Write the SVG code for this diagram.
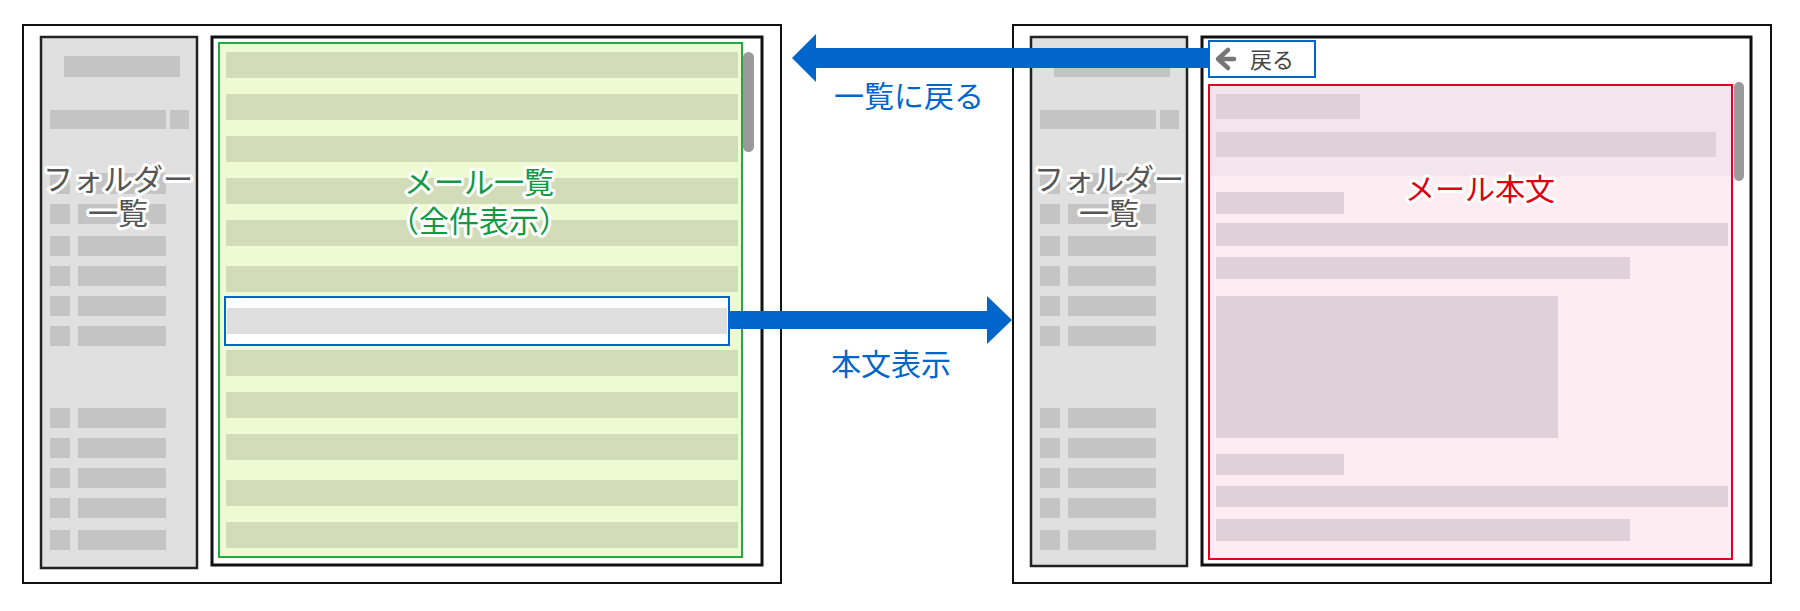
<svg xmlns="http://www.w3.org/2000/svg" width="1800" height="611" viewBox="0 0 1800 611">
<style>
.frame{fill:#fff;stroke:#111;stroke-width:2}
.panel{fill:#fff;stroke:#111;stroke-width:3}
.fold{fill:#e0e0e0;stroke:#222;stroke-width:2.5}
.fi{fill:#c4c4c4}
.st{fill:#d3dcb8}
.cb{fill:#e0d0d8}
.sb{fill:#9a9a9a}
.t{font-family:"Noto Sans CJK JP","Noto Sans",sans-serif;font-size:30px;text-anchor:middle;paint-order:stroke;stroke:#fff;stroke-width:6;stroke-linejoin:round}
.lbl{font-family:"Noto Sans CJK JP","Noto Sans",sans-serif;font-size:30px;text-anchor:middle;fill:#0066cc}
</style>
<defs>
<g id="folderItems">
<rect class="fi" x="23" y="19" width="116" height="21"/>
<rect class="fi" x="9" y="73" width="116" height="19"/>
<rect class="fi" x="129" y="73" width="19" height="19"/>
<rect class="fi" x="9" y="136" width="20" height="21"/><rect class="fi" x="37" y="136" width="88" height="21"/>
<rect class="fi" x="9" y="167" width="20" height="20"/><rect class="fi" x="37" y="167" width="88" height="20"/>
<rect class="fi" x="9" y="199" width="20" height="20"/><rect class="fi" x="37" y="199" width="88" height="20"/>
<rect class="fi" x="9" y="229" width="20" height="20"/><rect class="fi" x="37" y="229" width="88" height="20"/>
<rect class="fi" x="9" y="259" width="20" height="20"/><rect class="fi" x="37" y="259" width="88" height="20"/>
<rect class="fi" x="9" y="289" width="20" height="20"/><rect class="fi" x="37" y="289" width="88" height="20"/>
<rect class="fi" x="9" y="371" width="20" height="20"/><rect class="fi" x="37" y="371" width="88" height="20"/>
<rect class="fi" x="9" y="401" width="20" height="20"/><rect class="fi" x="37" y="401" width="88" height="20"/>
<rect class="fi" x="9" y="431" width="20" height="20"/><rect class="fi" x="37" y="431" width="88" height="20"/>
<rect class="fi" x="9" y="461" width="20" height="20"/><rect class="fi" x="37" y="461" width="88" height="20"/>
<rect class="fi" x="9" y="493" width="20" height="20"/><rect class="fi" x="37" y="493" width="88" height="20"/>
</g>
</defs>
<g id="list-screen">
<rect class="frame" x="23" y="25" width="758" height="558"/>
<g id="folder-left">
<rect class="fold" x="41" y="37" width="156" height="531"/>
<use href="#folderItems" x="41" y="37"/>
<text class="t" x="118" y="190" fill="#555">フォルダー</text>
<text class="t" x="118" y="224" fill="#555">一覧</text>
</g>
<g id="mail-list">
<rect class="panel" x="212" y="37" width="550" height="528"/>
<rect x="219" y="43" width="523" height="514" fill="#eefad2" stroke="#22aa44" stroke-width="2"/>
<rect class="st" x="226" y="52" width="512" height="26"/>
<rect class="st" x="226" y="94" width="512" height="26"/>
<rect class="st" x="226" y="136" width="512" height="26"/>
<rect class="st" x="226" y="178" width="512" height="26"/>
<rect class="st" x="226" y="220" width="512" height="26"/>
<rect class="st" x="226" y="266" width="512" height="26"/>
<rect class="st" x="226" y="350" width="512" height="26"/>
<rect class="st" x="226" y="392" width="512" height="26"/>
<rect class="st" x="226" y="434" width="512" height="26"/>
<rect class="st" x="226" y="480" width="512" height="26"/>
<rect class="st" x="226" y="522" width="512" height="26"/>
<rect class="sb" x="743" y="52" width="11" height="100" rx="5.5"/>
<text class="t" x="479" y="193" fill="#119944" font-size="32">メール一覧</text>
<text class="t" x="479" y="232" fill="#119944" font-size="32">（全件表示）</text>
</g>
<g id="selected-row">
<rect x="225" y="297" width="504" height="48" fill="#fff" stroke="#0066cc" stroke-width="2"/>
<rect x="227" y="308" width="500" height="26" fill="#dedede"/>
</g>
</g>
<g id="body-screen">
<rect class="frame" x="1013" y="25" width="758" height="558"/>
<g id="folder-right">
<rect class="fold" x="1031" y="37" width="156" height="529"/>
<use href="#folderItems" x="1031" y="37"/>
<text class="t" x="1109" y="190" fill="#555">フォルダー</text>
<text class="t" x="1109" y="224" fill="#555">一覧</text>
</g>
<g id="mail-body">
<rect class="panel" x="1202" y="37" width="549" height="528"/>
<rect x="1209" y="85" width="523" height="474" fill="#fdedf3"/>
<rect x="1210" y="86" width="521" height="90" fill="#f4e4ec"/>
<rect x="1209" y="85" width="523" height="474" fill="none" stroke="#e00020" stroke-width="2"/>
<rect class="cb" x="1216" y="94" width="144" height="25"/>
<rect class="cb" x="1216" y="132" width="500" height="25"/>
<rect class="cb" x="1216" y="192" width="128" height="22"/>
<rect class="cb" x="1216" y="223" width="512" height="23"/>
<rect class="cb" x="1216" y="257" width="414" height="22"/>
<rect class="cb" x="1216" y="296" width="342" height="142"/>
<rect class="cb" x="1216" y="454" width="128" height="21"/>
<rect class="cb" x="1216" y="486" width="512" height="21"/>
<rect class="cb" x="1216" y="519" width="414" height="22"/>
<rect class="sb" x="1734" y="82" width="10" height="99" rx="5"/>
<text class="t" x="1480" y="200" fill="#dd0011" font-size="32">メール本文</text>
</g>
</g>
<g id="connectors">
<path d="M729,311 H987 V296 L1012,320 L987,344 V329 H729 Z" fill="#0066cc"/>
<path d="M1210,48 H816 V34 L792,58 L816,82 V68 H1210 Z" fill="#0066cc"/>
<text class="lbl" x="891" y="375">本文表示</text>
<text class="lbl" x="909" y="107">一覧に戻る</text>
</g>
<g id="back-button">
<rect x="1209" y="41" width="106" height="36" fill="#fff" stroke="#0066cc" stroke-width="2"/>
<path d="M1228,50 L1218,59 L1228,68 M1219,59 H1234" fill="none" stroke="#777" stroke-width="4.5" stroke-linecap="round" stroke-linejoin="round"/>
<text x="1250" y="68" font-family="'Noto Sans CJK JP',sans-serif" font-size="22" fill="#444">戻る</text>
</g>
</svg>
